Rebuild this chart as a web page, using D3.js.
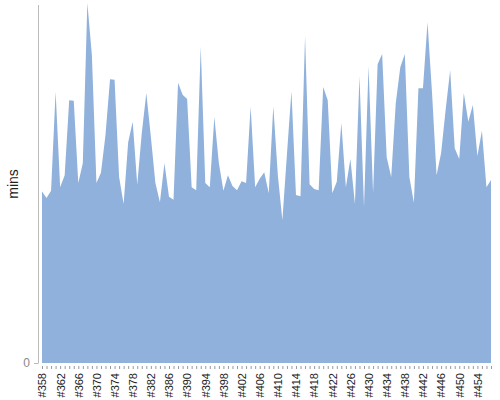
<!DOCTYPE html>
<html>
<head>
<meta charset="utf-8">
<script src="https://cdn.jsdelivr.net/npm/d3@7"></script>
<style>
  body { margin: 0; background: #fff; }
  svg { display: block; font-family: "Liberation Sans", Arial, sans-serif; }
</style>
</head>
<body>
<svg id="chart" width="500" height="400"></svg>
<script>
// Build numbers #358 .. #457
const categories = d3.range(358, 458).map(n => "#" + n);
const yLabel = "mins";
const yTickValues = [0];
const values = [
  28.6, 27.5, 28.7, 45.2, 29.3, 31.3, 43.8, 43.7, 30.0, 33.3,
  60.0, 51.3, 30.0, 31.7, 38.0, 47.3, 47.2, 31.0, 26.5, 36.8,
  40.2, 29.7, 38.3, 45.0, 37.7, 30.0, 26.8, 33.3, 27.7, 27.2,
  46.7, 44.7, 44.0, 29.3, 28.8, 52.7, 30.0, 29.3, 41.0, 33.3,
  28.7, 31.3, 29.5, 28.8, 30.3, 30.0, 42.7, 29.3, 30.7, 31.8,
  28.3, 42.8, 31.3, 23.8, 34.7, 45.3, 28.0, 27.8, 54.5, 29.8,
  29.0, 28.8, 46.0, 43.8, 28.3, 30.2, 40.0, 29.3, 34.0, 26.5,
  47.8, 26.0, 49.5, 28.3, 49.8, 51.5, 34.3, 31.0, 43.3, 49.3,
  51.5, 31.0, 26.7, 45.8, 45.8, 56.8, 45.0, 31.3, 35.0, 42.2,
  48.8, 35.8, 34.0, 45.0, 40.2, 43.0, 34.5, 38.7, 29.3, 30.5
];

const svg = d3.select("#chart");
const x = d3.scalePoint().domain(categories).range([42, 491]);
const y = d3.scaleLinear().domain([0, 60]).range([363, 3]);

const area = d3.area()
  .x((d, i) => x(categories[i]))
  .y0(y(0))
  .y1(d => y(d));

svg.append("path")
  .datum(values)
  .attr("d", area)
  .attr("fill", "#8fb1db");

// y axis
const yAxis = svg.append("g")
  .attr("transform", "translate(38,0)")
  .call(d3.axisLeft(y).tickValues(yTickValues).tickSize(4).tickSizeOuter(0));
yAxis.select(".domain").attr("stroke", "#bbb").attr("d", "M0.5,5V363.5");
yAxis.selectAll(".tick line").attr("stroke", "#bbb");
yAxis.selectAll(".tick text").attr("fill", "#888").style("font-size", "12px").attr("x", -8);

// x axis
const xAxis = svg.append("g")
  .attr("transform", "translate(0,366)")
  .call(d3.axisBottom(x).tickSize(3).tickSizeOuter(0)
    .tickFormat((d, i) => i % 4 === 0 ? d : ""));
xAxis.select(".domain").remove();
xAxis.selectAll(".tick line").attr("stroke", "#999");
xAxis.selectAll(".tick text")
  .attr("transform", "rotate(-90)")
  .attr("x", -7)
  .attr("y", 0)
  .attr("dy", "0.35em")
  .attr("text-anchor", "end")
  .attr("fill", "#222")
  .style("font-size", "11px");

// y label
svg.append("text")
  .attr("transform", "translate(18,184) rotate(-90)")
  .attr("text-anchor", "middle")
  .attr("fill", "#222")
  .style("font-size", "14px")
  .text(yLabel);
</script>
</body>
</html>
